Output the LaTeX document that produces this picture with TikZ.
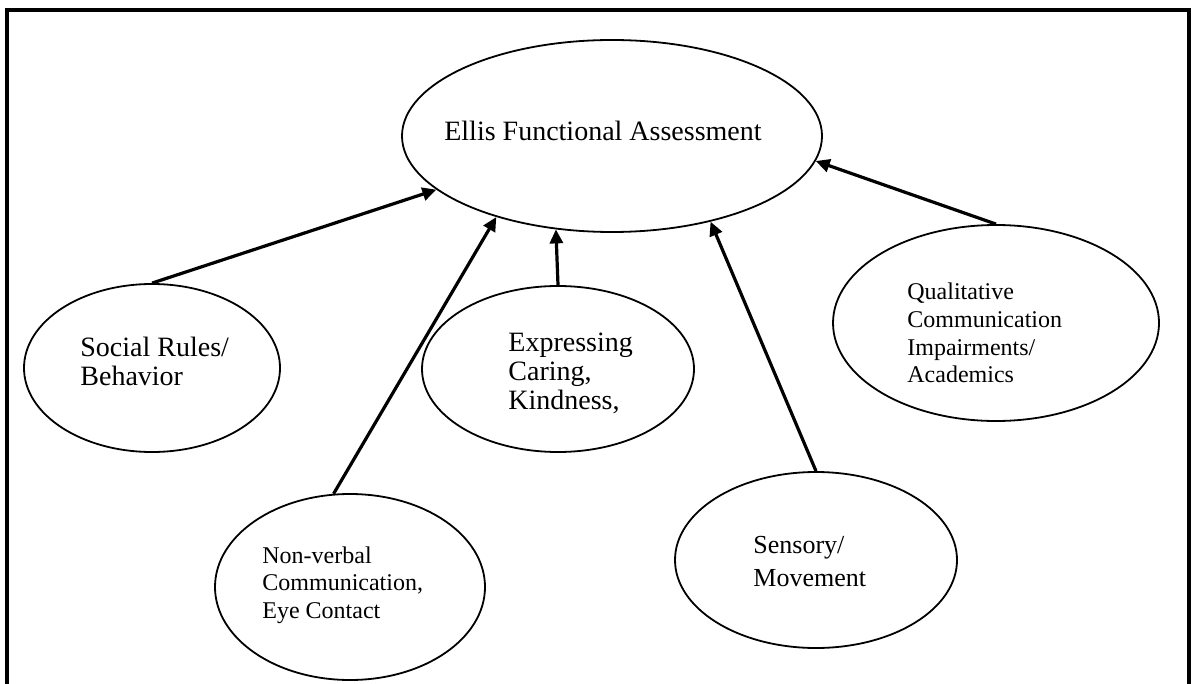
\documentclass[tikz,border=0pt]{standalone}
\usepackage{fontspec}
\setmainfont{Liberation Serif}
\usetikzlibrary{arrows.meta,shapes.geometric}
\begin{document}
\begin{tikzpicture}[x=0.5pt,y=-0.5pt,
  bubble/.style={draw, ellipse, inner sep=0pt, line width=0.9pt},
  txt/.style={align=left, inner sep=0pt, anchor=west},
  big/.style={font=\fontsize{14}{14.5}\selectfont},
  mid/.style={font=\fontsize{13}{16.5}\selectfont},
  small/.style={font=\fontsize{12}{13.8}\selectfont},
  link/.style={line width=1.6pt, -{Triangle[length=7pt,width=6.5pt]}},
  frame/.style={line width=1.6pt}]
\useasboundingbox (0,0) rectangle (1192,684);
% frame (open at the bottom)
\coordinate (fbl) at (7,700);
\coordinate (ftl) at (7,10);
\coordinate (ftr) at (1189,10);
\coordinate (fbr) at (1189,700);
\draw[frame] (fbl) -- (ftl) -- (ftr) -- (fbr);
% ellipses
\node[bubble, minimum width=210pt, minimum height=96pt] (ellis) at (612,136) {};
\node[bubble, minimum width=128pt, minimum height=84pt] (social) at (152,368) {};
\node[bubble, minimum width=136pt, minimum height=83pt] (expr) at (558,369) {};
\node[bubble, minimum width=163pt, minimum height=98pt] (qual) at (996,323) {};
\node[bubble, minimum width=135pt, minimum height=93pt] (nonverbal) at (350,587) {};
\node[bubble, minimum width=141pt, minimum height=88pt] (sensory) at (816,560) {};
% texts
\node[big, inner sep=0pt] (tellis) at (603,131) {Ellis Functional Assessment};
\node[txt, big] (tsocial) at (80,361) {Social Rules/\\Behavior};
\node[txt, big] (texpr) at (508,373) {Expressing\\Caring,\\Kindness,};
\node[txt, small] (tqual) at (907,333) {Qualitative\\Communication\\Impairments/\\Academics};
\node[txt, small] (tnonverbal) at (262,585) {Non-verbal\\Communication,\\Eye Contact};
\node[txt, mid] (tsensory) at (753,562) {Sensory/\\Movement};
% connectors
\draw[link] (social.north) -- (ellis.197.6);
\draw[link] (nonverbal.100) -- (ellis.215);
\draw[link] (expr.north) -- (ellis.239.9);
\draw[link] (sensory.north) -- (ellis.319.6);
\draw[link] (qual.north) -- (ellis.353.3);
\end{tikzpicture}
\end{document}
